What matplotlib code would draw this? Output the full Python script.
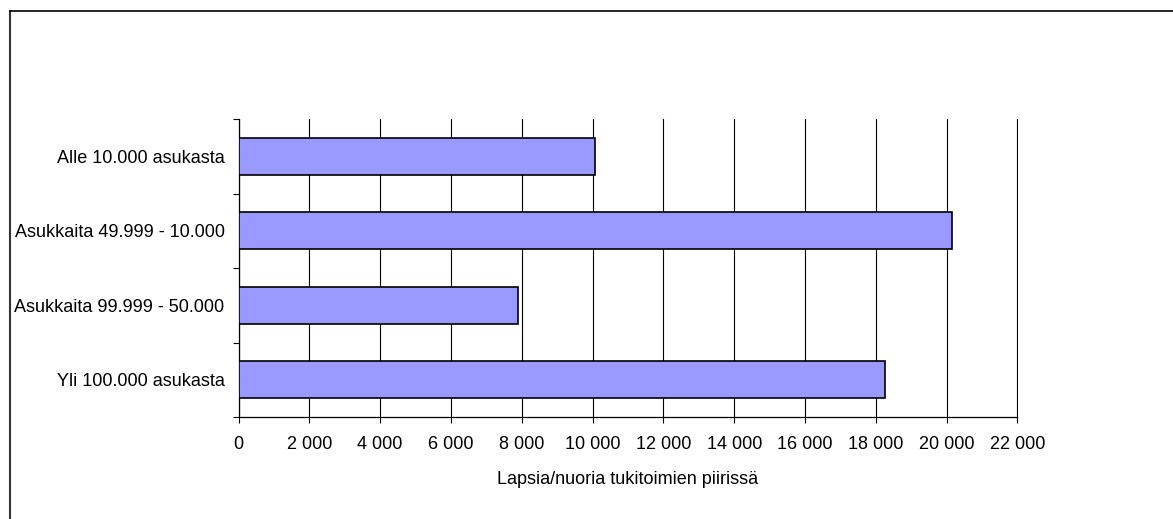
import numpy as np
import matplotlib.pyplot as plt
from matplotlib.lines import Line2D
from matplotlib.ticker import FuncFormatter

# data (top to bottom)
categories = ['Alle 10.000 asukasta', 'Asukkaita 49.999 - 10.000',
              'Asukkaita 99.999 - 50.000', 'Yli 100.000 asukasta']
values = [10070, 20150, 7900, 18250]
x_ticks = list(range(0, 22001, 2000))

plt.rcParams['font.family'] = ['Liberation Sans', 'DejaVu Sans']

fig = plt.figure(figsize=(11.73, 5.19), dpi=100)
ax = fig.add_axes([238.5 / 1173, 1 - 417 / 519, 779 / 1173, 298 / 519])

n = len(categories)
ypos = np.arange(n)[::-1] + 0.5
ax.barh(ypos, values, height=0.49, color='#9999FF', edgecolor='black',
        linewidth=1.2, zorder=3)

ax.set_xlim(0, 22000)
ax.set_ylim(0, n)
ax.set_xticks(x_ticks)
ax.xaxis.set_major_formatter(FuncFormatter(lambda v, p: f'{int(v):,}'.replace(',', ' ')))
ax.grid(axis='x', color='black', linewidth=0.8, zorder=1)

ax.set_yticks(ypos)
ax.set_yticklabels(categories)
ax.set_yticks(np.arange(n + 1), minor=True)
ax.tick_params(axis='y', which='major', length=0, pad=10, labelsize=13)
ax.tick_params(axis='y', which='minor', length=4, width=0.8, direction='out')
ax.tick_params(axis='x', length=4, width=0.8, direction='out', pad=10, labelsize=13)

for s in ['top', 'right']:
    ax.spines[s].set_visible(False)
for s in ['left', 'bottom']:
    ax.spines[s].set_linewidth(0.9)
    ax.spines[s].set_color('black')

ax.set_xlabel('Lapsia/nuoria tukitoimien piirissä', fontsize=13, labelpad=13)

# outer frame (left and top edges)
fig.add_artist(Line2D([10 / 1173, 10 / 1173], [0, 1 - 10.5 / 519],
                      transform=fig.transFigure, color='#333333', linewidth=1.5))
fig.add_artist(Line2D([10 / 1173, 1], [1 - 10.5 / 519, 1 - 10.5 / 519],
                      transform=fig.transFigure, color='black', linewidth=1.2))

fig.savefig('out.png', dpi=100)
